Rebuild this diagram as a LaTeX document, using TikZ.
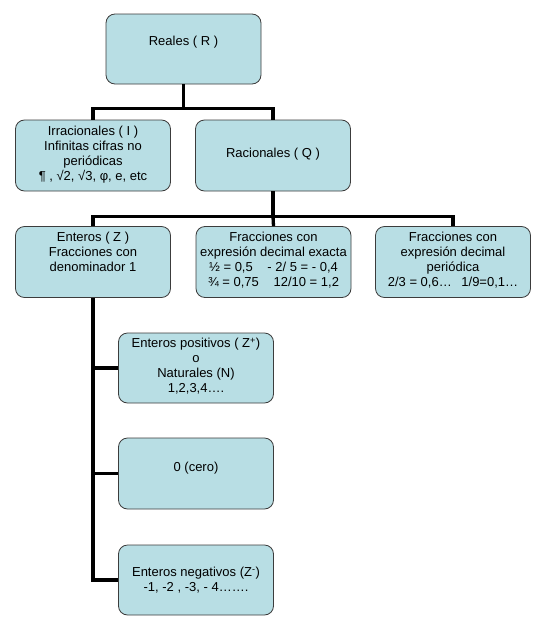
\documentclass[tikz,border=0pt]{standalone}
\usepackage{fontspec}
\setmainfont{Liberation Sans}
\definecolor{boxfill}{HTML}{B8DEE4}
\definecolor{boxline}{HTML}{3C3C3C}
\begin{document}
\begin{tikzpicture}[x=1pt,y=-1pt,
  box/.style={draw=boxline, fill=boxfill, line width=0.8pt, rounded corners=9pt,
    minimum width=155pt, inner sep=0pt},
  boxa/.style={box, minimum height=70pt},
  boxb/.style={box, minimum height=71pt},
  txt/.style={align=center, inner sep=0pt, font=\fontsize{13}{15}\selectfont},
  conn/.style={line width=3.3pt, black}]
\useasboundingbox (0,0) rectangle (541,621);
% boxes
\node[boxa] (reales) at (183.5,49) {};
\node[boxb] (irr) at (93,155.5) {};
\node[boxb] (rac) at (273,155.5) {};
\node[boxb] (ent) at (93,262) {};
\node[boxb] (exa) at (273.5,262) {};
\node[boxb] (per) at (453,262) {};
\node[boxa] (pos) at (196,368) {};
\node[boxb] (cero) at (196,473.5) {};
\node[boxa] (neg) at (196,580) {};
% texts
\node[txt] (realesT) at (183.5,42) {Reales ( R )};
\node[txt] (irrT) at (93,155) {Irracionales ( I )\\Infinitas cifras no\\periódicas\\¶ , √2, √3, φ, e, etc};
\node[txt] (racT) at (273,154) {Racionales ( Q )};
\node[txt] (entT) at (93,251.5) {Enteros ( Z )\\Fracciones con\\denominador 1};
\node[txt] (exaT) at (273.5,260) {Fracciones con\\expresión decimal exacta\\½ = 0,5\hspace{11pt} - 2/ 5 = - 0,4\\¾ = 0,75\hspace{11pt} 12/10 = 1,2};
\node[txt] (perT) at (453,260) {Fracciones con\\expresión decimal\\periódica\\2/3 = 0,6…\hspace{6pt} 1/9=0,1…};
\node[txt] (posT) at (196,366.5) {Enteros positivos ( Z\textsuperscript{+})\\o\\Naturales (N)\\1,2,3,4….};
\node[txt] (ceroT) at (196,468) {0 (cero)};
\node[txt] (negT) at (196,580) {Enteros negativos (Z\textsuperscript{-})\\-1, -2 , -3, - 4…….};
% connectors
\draw[conn] (reales.south) -- ++(0,24) coordinate (j1);
\draw[conn] (irr.north) |- (j1) -| (rac.north);
\draw[conn] (rac.south) -- ++(0,25) coordinate (j2);
\draw[conn] (ent.north) |- (j2) -| (per.north);
\draw[conn] (j2) -- (exa.north);
\draw[conn] (ent.south) |- (neg.west);
\draw[conn] (pos.west) -| (ent.south);
\draw[conn] (cero.west) -| (ent.south);
\end{tikzpicture}
\end{document}
